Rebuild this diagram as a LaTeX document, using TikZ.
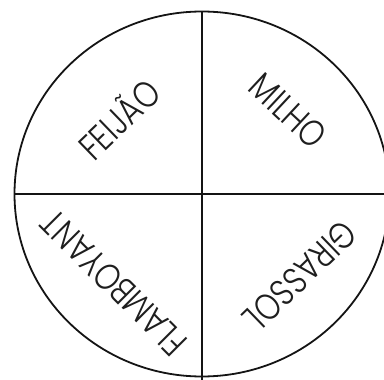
\documentclass[tikz,border=0pt]{standalone}
\usepackage{fontspec}
\newfontfamily\rodafont{Poppins Light}[FakeStretch=0.82]
\usepackage{tikz}
\usetikzlibrary{positioning, calc}
\definecolor{rimblack}{RGB}{20, 20, 20}
\definecolor{darktext}{RGB}{30, 30, 30}

\begin{document}
\begin{tikzpicture}[
  x=1pt, y=-1pt,
  borde/.style={draw=rimblack, line width=1.8pt},
  divisor/.style={draw=rimblack, line width=1.4pt},
  rotulo/.style={font=\rodafont\fontsize{37}{37}\selectfont, text=darktext, inner sep=0pt, rotate=#1}
]
\useasboundingbox (0,0) rectangle (384,380);
% Roda: borda e eixos
\coordinate (centro) at (202,194);
\coordinate (topo) at (202,12);
\coordinate (base) at (202,380);
\coordinate (esq) at (14.5,194);
\coordinate (dir) at (384,194);
\draw[borde] (centro) ellipse [x radius=187.5, y radius=182.5];
\draw[divisor] (topo) -- (base);
\draw[divisor] (esq) -- (dir);
% Quadrantes
\node[rotulo=44] (feijao) at (118,118) {FEIJÃO};
\node[rotulo=-43] (milho) at (288,111) {MILHO};
\node[rotulo=135] (flamboyant) at (114,283) {FLAMBOYANT};
\node[rotulo=-136] (girassol) at (300,276) {GIRASSOL};
\end{tikzpicture}
\end{document}
